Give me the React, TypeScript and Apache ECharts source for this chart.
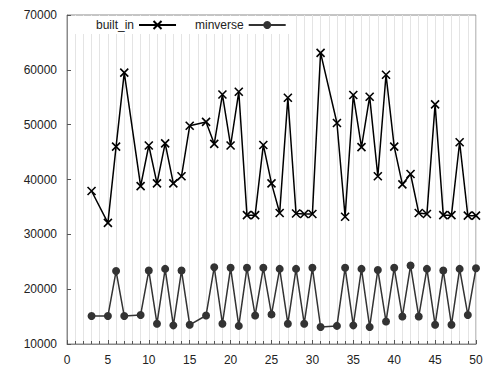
import React, { useEffect, useRef } from "react";
import * as echarts from "echarts";

const xs = [3, 5, 6, 7, 9, 10, 11, 12, 13, 14, 15, 17, 18, 19, 20, 21, 22, 23, 24, 25, 26, 27, 28, 29, 30, 31, 33, 34, 35, 36, 37, 38, 39, 40, 41, 42, 43, 44, 45, 46, 47, 48, 49, 50];
const builtIn = [37900, 32100, 46000, 59500, 38800, 46200, 39300, 46600, 39300, 40600, 49800, 50500, 46500, 55500, 46200, 56000, 33500, 33500, 46300, 39300, 33900, 54900, 33800, 33700, 33700, 63100, 50300, 33200, 55400, 45900, 55100, 40600, 59100, 46000, 39100, 41000, 33900, 33700, 53700, 33500, 33500, 46800, 33400, 33400];
const minverse = [15100, 15100, 23300, 15100, 15300, 23400, 13700, 23700, 13400, 23400, 13500, 15200, 24000, 13700, 23900, 13300, 23900, 15200, 23900, 15400, 23700, 13700, 23700, 13700, 23900, 13100, 13300, 23900, 13400, 23700, 13100, 23500, 14100, 23900, 15000, 24300, 15000, 23700, 13500, 23400, 13500, 23700, 15300, 23800];
const seriesNames = ["built_in", "minverse"];
const xTicks = { min: 0, max: 50, interval: 5 };
const yTicks = { min: 10000, max: 70000, interval: 10000 };

const FONT = "Liberation Sans, Arial, sans-serif";

export default function App() {
  const ref = useRef<HTMLDivElement>(null);
  useEffect(() => {
    if (!ref.current) return;
    const chart = echarts.init(ref.current, null, { renderer: "svg" });
    chart.setOption({
      animation: false,
      backgroundColor: "#fff",
      grid: {
        left: 67,
        right: 24,
        top: 15,
        bottom: 31,
        show: true,
        borderColor: "#8a8a8a",
        borderWidth: 1,
        backgroundColor: "transparent",
      },
      legend: {
        data: seriesNames,
        left: 68,
        top: 16,
        align: "right",
        orient: "horizontal",
        itemWidth: 37,
        itemHeight: 10,
        itemGap: 18,
        padding: [3, 6, 3, 28],
        backgroundColor: "#fff",
        textStyle: { fontSize: 12, color: "#222", fontFamily: FONT },
      },
      xAxis: {
        type: "value",
        min: xTicks.min,
        max: xTicks.max,
        interval: xTicks.interval,
        axisLine: { show: true, lineStyle: { color: "#8a8a8a" } },
        axisTick: { show: true, inside: true, length: 4, lineStyle: { color: "#555" } },
        minorTick: { show: true, splitNumber: 5, length: 3, lineStyle: { color: "#555" } },
        splitLine: { show: true, lineStyle: { color: "#e4e4e4", width: 1 } },
        minorSplitLine: { show: true, lineStyle: { color: "#e4e4e4", width: 1 } },
        axisLabel: { fontSize: 12, color: "#222", fontFamily: FONT, margin: 10 },
      },
      yAxis: {
        type: "value",
        min: yTicks.min,
        max: yTicks.max,
        interval: yTicks.interval,
        axisLine: { show: true, lineStyle: { color: "#8a8a8a" } },
        axisTick: { show: true, inside: true, length: 4, lineStyle: { color: "#555" } },
        splitLine: { show: false },
        axisLabel: {
          fontSize: 12,
          color: "#222",
          fontFamily: FONT,
          margin: 10,
          formatter: (v: number) => String(v),
        },
      },
      series: [
        {
          name: seriesNames[0],
          type: "line",
          data: xs.map((x, i) => [x, builtIn[i]]),
          symbol: "path://M0,0L10,10M10,0L0,10",
          symbolSize: 8,
          lineStyle: { color: "#000", width: 1.5 },
          itemStyle: { color: "#000", borderColor: "#000", borderWidth: 1.6 },
          z: 3,
        },
        {
          name: seriesNames[1],
          type: "line",
          data: xs.map((x, i) => [x, minverse[i]]),
          symbol: "circle",
          symbolSize: 8,
          lineStyle: { color: "#333", width: 1.5 },
          itemStyle: { color: "#333", borderWidth: 0 },
          z: 3,
        },
      ],
    });
    return () => chart.dispose();
  }, []);
  return (
    <div
      ref={ref}
      style={{ position: "fixed", left: 0, top: 0, width: 500, height: 375, background: "#fff" }}
    />
  );
}
